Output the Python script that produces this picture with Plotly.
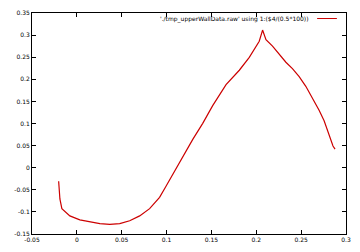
import plotly.graph_objects as go

x_vals = [-0.0203, -0.0200, -0.0194, -0.0189, -0.0167, -0.0078, 0.0033, 0.0144,
          0.0256, 0.0367, 0.0478, 0.0589, 0.0700, 0.0811, 0.0922, 0.0989,
          0.1144, 0.1292, 0.1403, 0.1514, 0.1663, 0.1811, 0.1922, 0.2033, 0.2070,
          0.2108, 0.2181, 0.2256, 0.2330, 0.2403, 0.2478, 0.2552, 0.2626, 0.2700,
          0.2756, 0.2792, 0.2830, 0.2855, 0.2878]
y_vals = [-0.0306, -0.0450, -0.0600, -0.0707, -0.0926, -0.1090, -0.1180, -0.1227,
          -0.1266, -0.1280, -0.1266, -0.1200, -0.1090, -0.0926, -0.0670, -0.0437,
          0.0131, 0.0640, 0.1004, 0.1404, 0.1878, 0.2205, 0.2496, 0.2860, 0.3114,
          0.2895, 0.2751, 0.2568, 0.2386, 0.2240, 0.2059, 0.1841, 0.1585, 0.1299,
          0.1060, 0.0840, 0.0600, 0.0490, 0.0421]

x_ticks = [-0.05, 0, 0.05, 0.1, 0.15, 0.2, 0.25, 0.3]
x_labels = ["-0.05", "0", "0.05", "0.1", "0.15", "0.2", "0.25", "0.3"]
y_ticks = [-0.15, -0.1, -0.05, 0, 0.05, 0.1, 0.15, 0.2, 0.25, 0.3, 0.35]
y_labels = ["-0.15", "-0.1", "-0.05", "0", "0.05", "0.1", "0.15", "0.2", "0.25", "0.3", "0.35"]
legend_label = "'./tmp_upperWallData.raw' using 1:($4/(0.5*100))"

font = dict(family="DejaVu Sans", size=6, color="black")

fig = go.Figure()
fig.add_trace(go.Scatter(x=x_vals, y=y_vals, mode="lines",
                         line=dict(color="#cc0000", width=1.2),
                         name=legend_label, showlegend=False))

axis_common = dict(showgrid=False, zeroline=False, showline=True, linecolor="black",
                   linewidth=1, mirror="allticks", ticks="inside", ticklen=4,
                   tickcolor="black", tickfont=font)
fig.update_xaxes(range=[-0.05, 0.3], tickvals=x_ticks, ticktext=x_labels, **axis_common)
fig.update_yaxes(range=[-0.15, 0.35], tickvals=y_ticks, ticktext=y_labels, **axis_common)

fig.add_annotation(x=0.89, y=0.975, xref="paper", yref="paper", text=legend_label,
                   showarrow=False, xanchor="right", yanchor="middle", font=font)
fig.add_shape(type="line", xref="paper", yref="paper", x0=0.908, x1=0.971,
              y0=0.975, y1=0.975, line=dict(color="#cc0000", width=1))

fig.update_layout(width=360, height=252, margin=dict(l=32, r=13, t=9, b=14),
                  plot_bgcolor="white", paper_bgcolor="white", font=font)
fig.write_html("out.html")
